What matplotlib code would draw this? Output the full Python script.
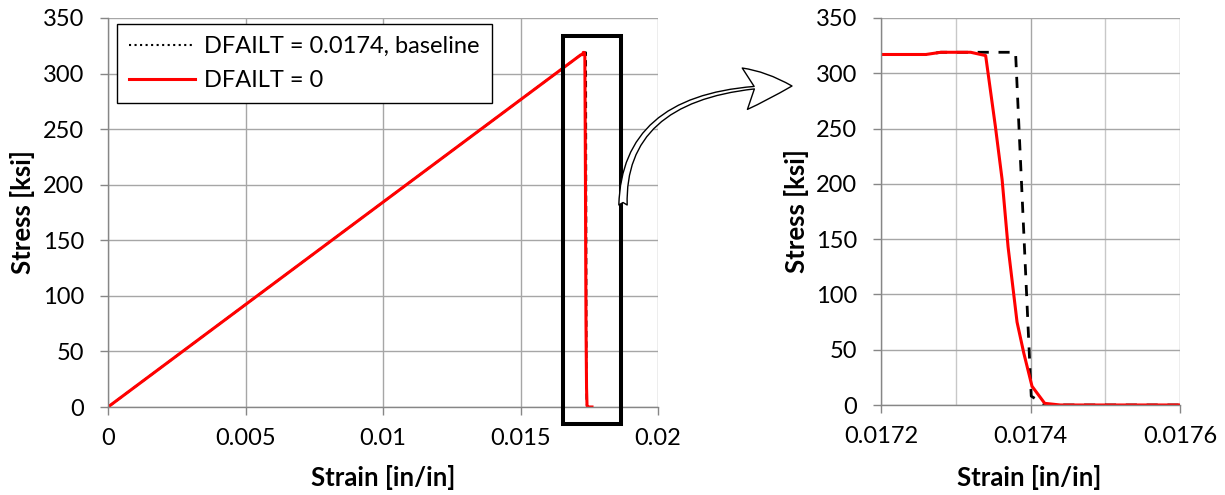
import numpy as np
import matplotlib
matplotlib.use("Agg")
import matplotlib.pyplot as plt
from matplotlib.lines import Line2D
from matplotlib.patches import Rectangle, FancyArrowPatch
from matplotlib.ticker import MultipleLocator

# Data
strain_base = [0.0, 0.0172, 0.01726, 0.01728, 0.01738, 0.017401, 0.01742, 0.0176]
stress_base = [0.0, 317.0, 317.0, 319.0, 319.0, 8.0, 0.0, 0.0]

strain_d0 = [0.0, 0.0172, 0.01726, 0.01728, 0.01732, 0.01734, 0.017353, 0.017362,
             0.01737, 0.017382, 0.017391, 0.017402, 0.017419, 0.01744, 0.0176]
stress_d0 = [0.0, 317.0, 317.0, 319.0, 319.0, 316.0, 252.0, 204.0,
             143.0, 75.0, 47.0, 17.0, 1.5, 0.0, 0.0]

left_xticks = [0, 0.005, 0.01, 0.015, 0.02]
left_xlabels = ["0", "0.005", "0.01", "0.015", "0.02"]
right_xticks = [0.0172, 0.0174, 0.0176]
right_xlabels = ["0.0172", "0.0174", "0.0176"]
yticks = [0, 50, 100, 150, 200, 250, 300, 350]

label_base = "DFAILT = 0.0174, baseline"
label_d0 = "DFAILT = 0"

plt.rcParams["font.family"] = ["Lato", "DejaVu Sans"]
fs = 17
fs_lab = 18.5
grid_c = "#a6a6a6"
axis_c = "#868686"

W, H = 1225, 495
fig = plt.figure(figsize=(W / 100, H / 100), dpi=100)
ax1 = fig.add_axes([108 / W, 1 - 407 / H, 550 / W, 389 / H])
ax2 = fig.add_axes([881 / W, 1 - 405 / H, 299 / W, 387 / H])


def style(ax):
    for s in ["top", "right"]:
        ax.spines[s].set_visible(False)
    for s in ["left", "bottom"]:
        ax.spines[s].set_color(axis_c)
        ax.spines[s].set_linewidth(1.0)
    ax.tick_params(which="major", direction="out", length=6, width=1.0,
                   color=axis_c, labelsize=fs)
    ax.tick_params(axis="y", pad=11)
    ax.tick_params(axis="x", pad=9)
    ax.set_ylim(0, 350)
    ax.set_yticks(yticks)
    ax.grid(True, which="major", color=grid_c, linewidth=1.0)
    ax.set_axisbelow(True)


style(ax1)
ax1.plot(strain_base, stress_base, color="black", lw=1.5, ls=(0, (3, 2)))
ax1.plot(strain_d0, stress_d0, color="red", lw=2.2)
ax1.set_xlim(0, 0.02)
ax1.set_xticks(left_xticks)
ax1.set_xticklabels(left_xlabels)
ax1.set_xlabel("Strain [in/in]", fontsize=fs_lab, fontweight="bold", va="center")
ax1.xaxis.set_label_coords(0.5, -0.1825)
ax1.set_ylabel("Stress [ksi]", fontsize=fs_lab, fontweight="bold", va="center")
ax1.yaxis.set_label_coords(-0.156, 0.5)

handles = [Line2D([], [], color="black", lw=1.5, ls=":"),
           Line2D([], [], color="red", lw=2.2)]
leg = ax1.legend(handles, [label_base, label_d0], loc="upper left",
                 bbox_to_anchor=(0.0164, 0.9846), borderaxespad=0,
                 fontsize=fs, fancybox=False, framealpha=1, edgecolor="black",
                 handlelength=2.8, handletextpad=0.4, labelspacing=0.55,
                 borderpad=0.5)
leg.get_frame().set_linewidth(1.0)

ax1.add_patch(Rectangle((0.016556, -15.3), 0.0021, 349.1, fill=False,
                        edgecolor="black", lw=2.9, clip_on=False, zorder=5))

style(ax2)
ax2.plot(strain_base, stress_base, color="black", lw=2.0, ls=(0, (4, 3.5)))
ax2.plot(strain_d0, stress_d0, color="red", lw=2.2)
ax2.set_xlim(0.0172, 0.0176)
ax2.set_xticks(right_xticks)
ax2.set_xticklabels(right_xlabels)
ax2.xaxis.set_minor_locator(MultipleLocator(0.0001))
ax2.tick_params(axis="x", which="minor", length=0)
ax2.grid(True, which="minor", axis="x", color="#c8c8c8", linewidth=1.0)
ax2.set_xlabel("Strain [in/in]", fontsize=fs_lab, fontweight="bold", va="center")
ax2.xaxis.set_label_coords(0.495, -0.1886)
ax2.set_ylabel("Stress [ksi]", fontsize=fs_lab, fontweight="bold", va="center")
ax2.yaxis.set_label_coords(-0.281, 0.5)

arrow = FancyArrowPatch((623 / W, 1 - 205 / H), (792 / W, 1 - 86 / H),
                        transform=fig.transFigure,
                        connectionstyle="angle3,angleA=90,angleB=0",
                        arrowstyle="fancy,head_length=1.7,head_width=1.5,tail_width=0.3",
                        mutation_scale=20, shrinkA=0, shrinkB=0,
                        facecolor="white", edgecolor="black", lw=1.0)
fig.patches.append(arrow)

fig.savefig("out.png", dpi=100)
